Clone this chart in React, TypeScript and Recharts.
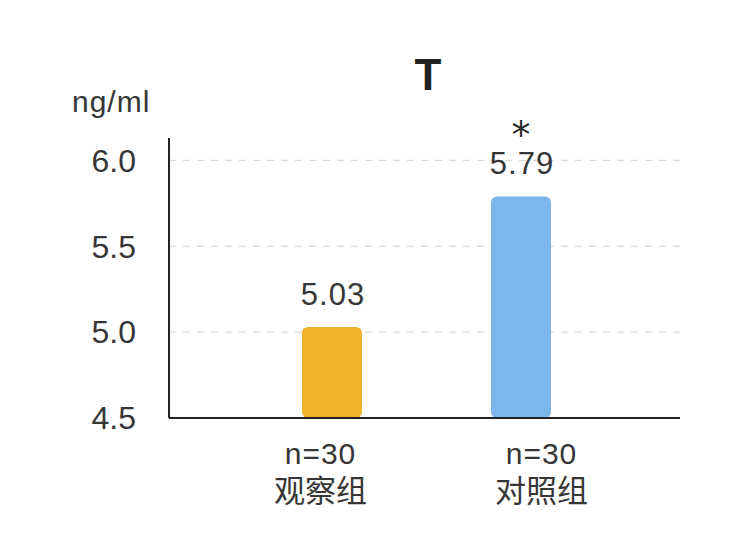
import React from 'react';
import { BarChart, Bar, XAxis, YAxis, CartesianGrid, LabelList, Cell } from 'recharts';

const groups = ['观察组', '对照组'];
const sizes = ['n=30', 'n=30'];
const values = [5.03, 5.79];
const marks = ['', '*'];
const colors = ['#F1B12B', '#7DB6EA'];
const yTicks = [4.5, 5.0, 5.5, 6.0];
const gridValues = [5.0, 5.5, 6.0];

const data = groups.map((g, i) => ({ group: g, n: sizes[i], value: values[i], mark: marks[i] }));

const font = '"Liberation Sans", "Noto Sans CJK SC", Arial, sans-serif';
const cjkFont = '"Noto Sans CJK SC", "Liberation Sans", sans-serif';
const textColor = '#363636';

// tick labels sit a bit off the bar centres in the original
const tickShift = [-11, 21];

const GroupTick = (props: any) => {
    const { x, y, payload, index } = props;
    const dx = tickShift[index] ?? 0;
    return (
        <g transform={`translate(${x + dx},${y})`}>
            <text x={0} y={38} textAnchor="middle" fontSize={30} letterSpacing={1} fill={textColor} fontFamily={font}>{sizes[index]}</text>
            <text x={0} y={76} textAnchor="middle" fontSize={31} fill={textColor} fontFamily={cjkFont}>{payload.value}</text>
        </g>
    );
};

const ValueLabel = (props: any) => {
    const { x, y, width, value, index } = props;
    const cx = x + width / 2;
    return (
        <g>
            {marks[index] ? (
                <text x={cx} y={y - 48} textAnchor="middle" fontSize={38} fill="#2a2a2a" fontFamily='"DejaVu Sans", sans-serif'>{marks[index]}</text>
            ) : null}
            <text x={cx + 1} y={y - 22} textAnchor="middle" fontSize={31} letterSpacing={1} fill={textColor} fontFamily={font}>{value.toFixed(2)}</text>
        </g>
    );
};

export default function App() {
    return (
        <div style={{ position: 'absolute', left: 0, top: 0, width: 748, height: 556, background: '#fff' }}>
            <BarChart width={748} height={556} data={data} margin={{ top: 138, right: 68, left: 0, bottom: 0 }}>
                <CartesianGrid vertical={false} horizontalValues={gridValues} strokeDasharray="7 7" stroke="#d2d2d2" />
                <XAxis
                    dataKey="group"
                    tick={<GroupTick />}
                    tickLine={false}
                    axisLine={{ stroke: '#222', strokeWidth: 2 }}
                    padding={{ left: 68, right: 65 }}
                    interval={0}
                    height={138}
                />
                <YAxis
                    width={169}
                    domain={[4.5, 6.13]}
                    ticks={yTicks}
                    tickFormatter={(v: number) => v.toFixed(1)}
                    tickLine={false}
                    tickSize={0}
                    tickMargin={33}
                    axisLine={{ stroke: '#222', strokeWidth: 2 }}
                    tick={{ fontSize: 32, fill: textColor, fontFamily: font }}
                    allowDataOverflow
                />
                <Bar dataKey="value" barSize={60} radius={[6, 6, 6, 6]} isAnimationActive={false}>
                    {data.map((d, i) => <Cell key={d.group} fill={colors[i]} />)}
                    <LabelList dataKey="value" content={<ValueLabel />} />
                </Bar>
            </BarChart>
            <svg width={748} height={556} style={{ position: 'absolute', left: 0, top: 0, pointerEvents: 'none' }}>
                <text x={428} y={90} textAnchor="middle" fontSize={44} fontWeight="bold" fill="#222" fontFamily={font}>T</text>
                <text x={72} y={112} fontSize={30} letterSpacing={1} fill={textColor} fontFamily={font}>ng/ml</text>
            </svg>
        </div>
    );
}
